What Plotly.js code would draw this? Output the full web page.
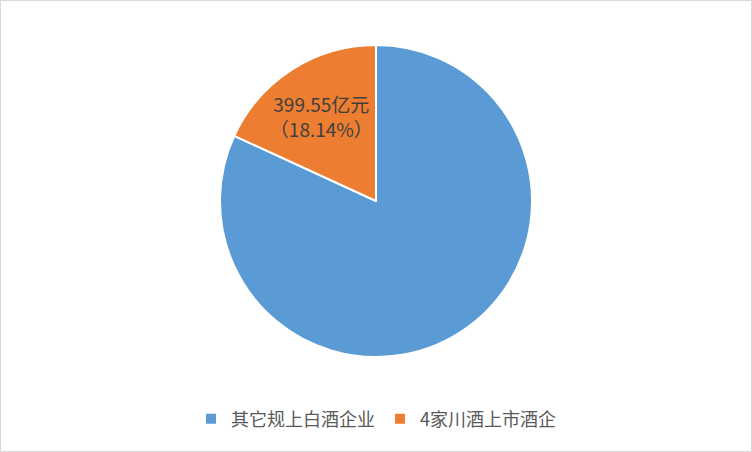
<!DOCTYPE html>
<html>
<head>
<meta charset="utf-8">
<script src="https://cdn.plot.ly/plotly-3.0.1.min.js"></script>
<style>
  body { margin: 0; background: #fff; }
  #chart { width: 750px; height: 450px; border: 1px solid #d9d9d9; }
</style>
</head>
<body>
<div id="chart"></div>
<script>
// 白酒企业营收构成
var labels = ['其它规上白酒企业', '4家川酒上市酒企'];
var values = [1803.04, 399.55];
var shares = ['81.86%', '18.14%'];
var colors = ['#5b9bd5', '#ed7d31'];

var texts = [];
for (var i = 0; i < labels.length; i++) {
  if (i == 1) {
    texts.push(values[i] + '亿元<br>（' + shares[i] + '）');
  } else {
    texts.push('');
  }
}

var W = 750, H = 450;
var cx = 375, cy = 200, r = 156;

var trace = {
  type: 'pie',
  labels: labels,
  values: values,
  text: texts,
  textinfo: 'text',
  textposition: 'inside',
  insidetextorientation: 'horizontal',
  hoverinfo: 'label+value+percent',
  sort: false,
  direction: 'clockwise',
  rotation: 0,
  marker: { colors: colors, line: { color: '#ffffff', width: 2 } },
  textfont: { family: 'Noto Sans CJK SC', size: 19, color: '#404040' },
  domain: {
    x: [(cx - r) / W, (cx + r) / W],
    y: [(H - cy - r) / H, (H - cy + r) / H]
  }
};

var layout = {
  width: W,
  height: H,
  margin: { l: 0, r: 0, t: 0, b: 0 },
  paper_bgcolor: '#ffffff',
  font: { family: 'Noto Sans CJK SC', color: '#595959' },
  uniformtext: { mode: 'show', minsize: 19 },
  showlegend: true,
  legend: {
    orientation: 'h',
    x: 0.5,
    xanchor: 'center',
    y: (H - 418) / H,
    yanchor: 'middle',
    font: { family: 'Noto Sans CJK SC', size: 18, color: '#595959' },
    itemwidth: 30,
    traceorder: 'normal'
  }
};

Plotly.newPlot('chart', [trace], layout, { displayModeBar: false });
</script>
</body>
</html>
